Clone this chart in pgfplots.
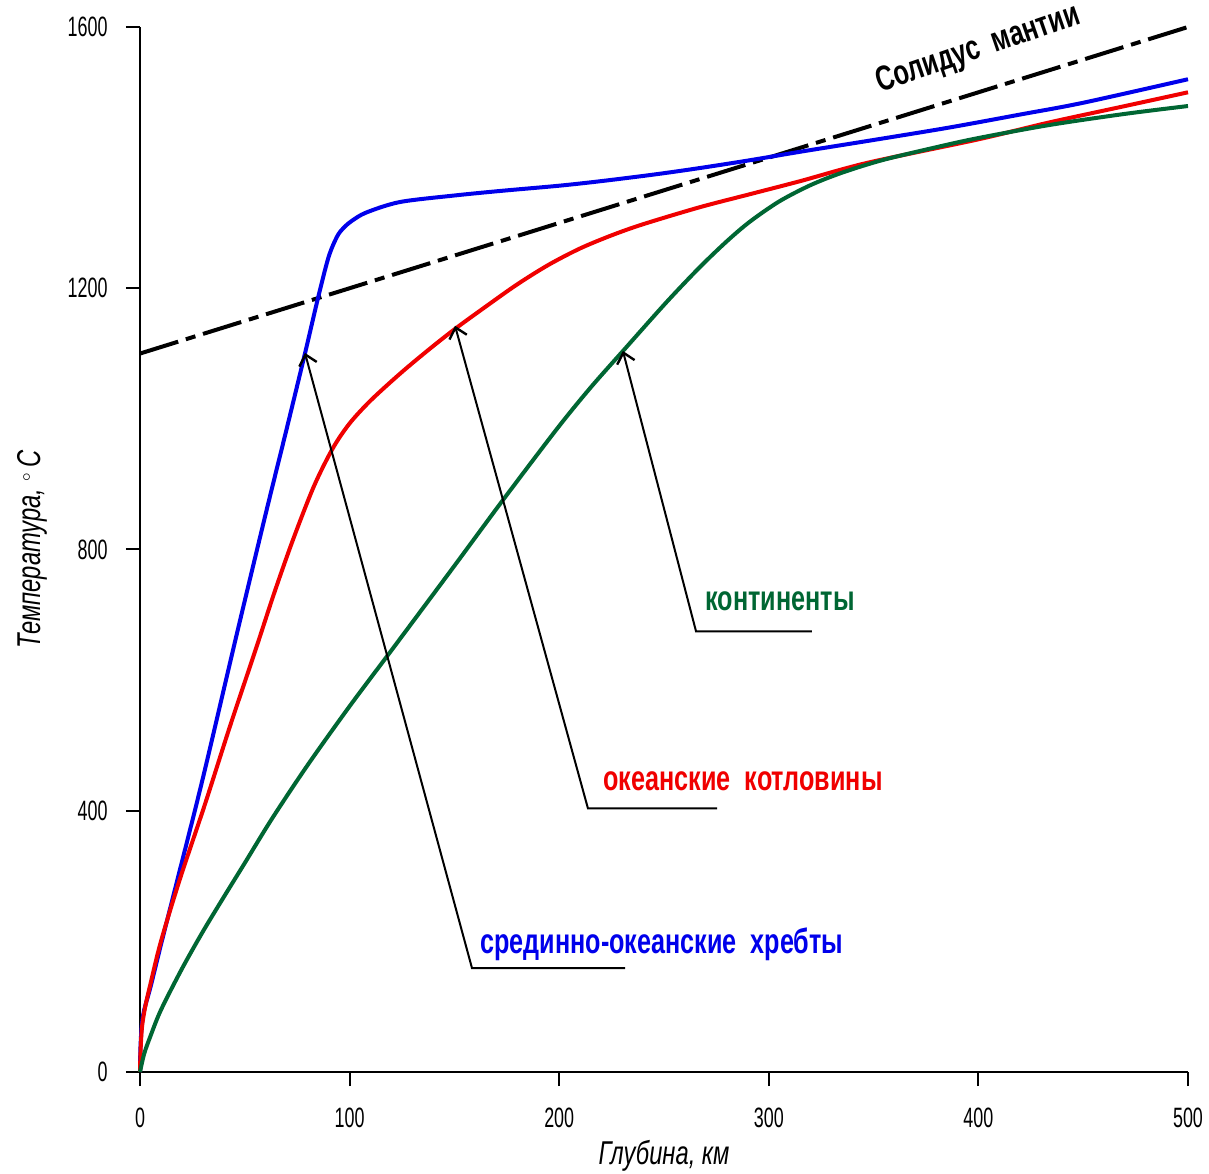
\documentclass[border=0pt]{standalone}
\usepackage{pgfplots}
\pgfplotsset{compat=1.18}
\usepackage{fontspec}
\setmainfont{Liberation Sans}[FakeStretch=0.72]
\newfontfamily\tickfont{Liberation Sans}[FakeStretch=0.64]
\usetikzlibrary{arrows.meta}
\definecolor{cgreen}{RGB}{0,102,51}
\definecolor{cblue}{RGB}{0,0,235}
\definecolor{cred}{RGB}{240,0,0}
\begin{document}
\begin{tikzpicture}
\begin{axis}[
  scale only axis, width=524pt, height=522.5pt,
  xmin=0, xmax=500, ymin=0, ymax=1600,
  axis x line=bottom, axis y line=left,
  axis line style={-, line width=1pt},
  xtick={0,100,...,500}, ytick={0,400,...,1600},
  tick align=outside, major tick length=7pt,
  tick style={line width=1pt, black},
  /pgf/number format/assume math mode=true,
  /pgf/number format/set thousands separator={},
  tick label style={font=\tickfont\fontsize{14}{16}\selectfont},
  yticklabel style={anchor=east, inner sep=0pt, xshift=-9pt},
  xticklabel style={anchor=north, inner sep=0pt, yshift=-11pt},
  xlabel={Глубина, км},
  xlabel style={font=\fontsize{16.5}{18}\selectfont\itshape, at={(axis description cs:0.5,0)}, anchor=north, inner sep=0pt, yshift=-34pt},
  ylabel={Температура, \raisebox{0.55ex}{\footnotesize$\circ$}\,C},
  ylabel style={font=\fontsize{16.5}{18}\selectfont\itshape, at={(axis description cs:0,0.5)}, anchor=center, inner sep=0pt, yshift=54pt},
  clip=false,
]
% Solidus
\addplot[black, line width=2pt, dash pattern=on 20pt off 4pt on 5pt off 4pt] coordinates {(0,1100) (500,1600)};
% mid-ocean ridges
\addplot[cblue, line width=2pt, smooth] coordinates {
(0,0) (0.2,35) (0.8,70) (2,95) (5,130) (10,195) (17.5,290) (30,450) (46,668) (60,855) (70,985) (78.7,1100) (85,1186) (90,1248) (94,1279) (97,1292) (101,1303) (108,1316) (124,1332) (150,1342) (172,1349) (200,1357) (220,1364) (245,1374) (267,1384) (291,1396) (315,1409) (350,1427) (386,1446) (420,1466) (450,1484) (500,1520)};
% oceanic basins
\addplot[cred, line width=2pt, smooth] coordinates {
(0,0) (0.3,35) (1,70) (2.5,100) (5,135) (10,200) (19,295) (31,410) (43,530) (55,645) (64,733) (73,815) (83,897) (92,955) (100,993) (110,1028) (124,1069) (137,1104) (150,1137) (165,1172) (180,1206) (195,1236) (210,1261) (225,1281) (240,1298) (267,1324) (291,1344) (315,1364) (347,1392) (400,1428) (434,1454) (470,1479) (500,1500)};
% continents
\addplot[cgreen, line width=2pt, smooth] coordinates {
(0,0) (2,28) (5,55) (10,95) (20,158) (30,215) (40,268) (50,320) (63,388) (80,470) (100,560) (121,650) (150,775) (173,875) (199,985) (215,1048) (231,1106) (251,1178) (267,1232) (280,1272) (291,1302) (305,1333) (320,1358) (335,1377) (354,1396) (380,1416) (400,1430) (434,1450) (470,1467) (500,1479)};
% annotations
\draw[line width=1pt, -{Straight Barb[length=5pt,width=9pt,line width=1.2pt]}] (axis cs:231.4,159) -- (axis cs:158.4,159) -- (axis cs:78.7,1101);
\draw[line width=1pt, -{Straight Barb[length=5pt,width=9pt,line width=1.2pt]}] (axis cs:275.3,403.8) -- (axis cs:213.7,403.8) -- (axis cs:150.3,1142.6);
\draw[line width=1pt, -{Straight Barb[length=5pt,width=9pt,line width=1.2pt]}] (axis cs:320.6,674.5) -- (axis cs:265.3,674.5) -- (axis cs:230.4,1104);
\node[anchor=base west, inner sep=0pt, text=cblue, font=\fontsize{17.5}{20}\selectfont\bfseries] at (axis cs:162.2,182) {срединно-океанские\ \ хребты};
\node[anchor=base west, inner sep=0pt, text=cred, font=\fontsize{17.5}{20}\selectfont\bfseries] at (axis cs:220.9,431) {океанские\ \ котловины};
\node[anchor=base west, inner sep=0pt, text=cgreen, font=\fontsize{17.5}{20}\selectfont\bfseries] at (axis cs:269.6,706.6) {континенты};
\node[rotate=19, inner sep=0pt, font=\fontsize{17.5}{20}\selectfont\bfseries] at (axis cs:400,1565) {Солидус\ \ мантии};
\end{axis}
\path ([shift={(-70pt,-50.5pt)}]current axis.south west) rectangle ([shift={(10.5pt,13.5pt)}]current axis.north east);
\end{tikzpicture}
\end{document}
